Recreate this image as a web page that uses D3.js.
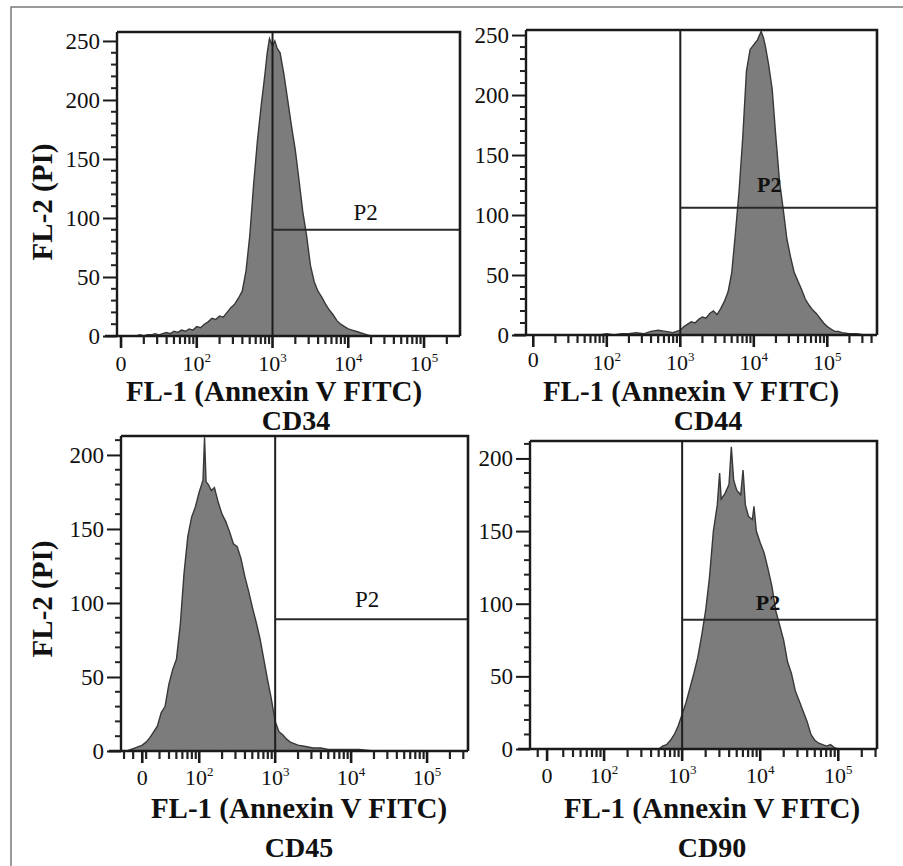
<!DOCTYPE html>
<html><head><meta charset="utf-8">
<script src="https://cdn.jsdelivr.net/npm/d3@7"></script>
<style>
html,body{margin:0;padding:0;background:#fff;}
svg{display:block;font-family:"Liberation Serif","Times New Roman",serif;}
</style></head>
<body>
<svg id="c" width="903" height="866"></svg>
<script>
// ---- data (x in decade units of FL-1 fluorescence, y = cell count) ----
const panelNames = ["CD34", "CD44", "CD45", "CD90"];
const xTickLabels = ["0", "10^2", "10^3", "10^4", "10^5"];
const yTickValuesTop = [0, 50, 100, 150, 200, 250];
const yTickValuesBottom = [0, 50, 100, 150, 200];
const zeroTick = [1.0, 1.0, 1.25, 1.27];   // where the "0" tick sits on each axis
const gateX = [3, 3, 3, 3];                // vertical gate at 10^3
const gateY = [90, 106, 89, 89];           // horizontal P2 gate level
const p2Pos = [[4.23, 98], [4.21, 119], [4.21, 97], [4.10, 96]];

const cd34X = [1.20,1.25,1.30,1.35,1.40,1.45,1.50,1.55,1.60,1.65,1.70,1.75,1.80,1.85,1.90,1.95,2.00,2.05,2.10,2.15,2.20,2.25,2.30,2.35,2.40,2.45,2.50,2.55,2.60,2.65,2.70,2.75,2.80,2.85,2.90,2.93,2.96,3.00,3.03,3.06,3.10,3.15,3.20,3.25,3.30,3.35,3.40,3.45,3.50,3.55,3.60,3.65,3.70,3.75,3.80,3.85,3.90,3.95,4.00,4.05,4.10,4.15,4.20,4.25,4.30];
const cd34Y = [0,1,0,1,1,2,1,2,3,2,4,3,5,4,6,5,8,7,10,12,15,14,17,16,20,24,27,32,38,55,85,128,165,195,222,240,252,246,250,244,240,222,200,178,158,132,105,85,60,46,38,33,27,22,18,13,10,8,6,5,4,3,2,1,0];

const cd44X = [1.90,2.00,2.10,2.20,2.30,2.40,2.50,2.60,2.70,2.80,2.90,3.00,3.05,3.10,3.15,3.20,3.25,3.30,3.35,3.40,3.45,3.50,3.55,3.60,3.65,3.70,3.75,3.80,3.85,3.90,3.95,4.00,4.05,4.10,4.13,4.16,4.20,4.25,4.30,4.35,4.40,4.45,4.50,4.55,4.60,4.65,4.70,4.75,4.80,4.85,4.90,4.95,5.00,5.05,5.10,5.15,5.20,5.30,5.40,5.50];
const cd44Y = [0,1,0,1,1,2,1,3,4,3,2,4,7,9,11,10,13,15,14,18,20,17,22,28,36,52,85,120,165,220,238,242,246,253,248,240,226,205,165,128,105,80,65,52,45,38,30,25,21,18,14,10,7,5,3,3,2,1,1,0];

const cd45X = [1.05,1.10,1.15,1.20,1.25,1.30,1.35,1.40,1.45,1.50,1.55,1.60,1.65,1.70,1.75,1.80,1.85,1.90,1.95,2.00,2.05,2.07,2.09,2.12,2.16,2.20,2.25,2.30,2.35,2.40,2.45,2.50,2.55,2.60,2.65,2.70,2.75,2.80,2.85,2.90,2.95,3.00,3.05,3.10,3.15,3.20,3.30,3.40,3.50,3.60,3.70,3.90,4.10,4.30];
const cd45Y = [0,1,2,3,4,6,9,13,17,26,30,45,55,62,85,120,145,158,165,175,183,212,182,180,176,178,168,160,155,148,140,138,130,118,108,97,87,76,62,48,35,20,13,11,8,6,4,3,2,2,1,1,1,0];

const cd90X = [2.70,2.75,2.80,2.85,2.90,2.95,3.00,3.05,3.10,3.15,3.20,3.25,3.30,3.35,3.40,3.45,3.48,3.50,3.55,3.60,3.63,3.66,3.70,3.75,3.78,3.81,3.85,3.90,3.92,3.95,4.00,4.05,4.10,4.15,4.20,4.25,4.30,4.35,4.40,4.45,4.50,4.55,4.60,4.65,4.70,4.75,4.80,4.85,4.90,4.95,5.00];
const cd90Y = [0,2,3,6,10,16,24,32,42,52,63,78,95,118,150,168,190,172,176,182,208,185,178,175,192,168,160,158,167,150,142,135,124,112,95,85,75,60,52,40,33,26,19,10,6,4,3,2,3,1,0];

const seriesX = [cd34X, cd44X, cd45X, cd90X];
const seriesY = [cd34Y, cd44Y, cd45Y, cd90Y];

// ---- layout ----
const layout = [
  {box:[117,460,32,336], xd:[0.947,5.475], yd:[0,257.6], yTicks:yTickValuesTop, ytitleY:202,
   tickBase:35, zeroDy:0, titleX:274, titleY:401, nameX:296, nameY:430, p2Bold:false},
  {box:[526,877,30,335], xd:[0.901,5.676], yd:[0,254.2], yTicks:yTickValuesTop, ytitleY:null,
   tickBase:35, zeroDy:-3, titleX:691, titleY:401, nameX:708, nameY:430, p2Bold:true},
  {box:[121,468,436,751], xd:[0.970,5.539], yd:[0,212.8], yTicks:yTickValuesBottom, ytitleY:599,
   tickBase:34, zeroDy:0, titleX:299, titleY:818, nameX:299, nameY:857, p2Bold:false},
  {box:[530,877,441,749], xd:[1.051,5.496], yd:[0,212], yTicks:yTickValuesBottom, ytitleY:null,
   tickBase:34, zeroDy:0, titleX:712, titleY:818, nameX:712, nameY:857, p2Bold:true}
];

const svg = d3.select("#c");
svg.append("rect").attr("x",11).attr("y",7).attr("width",905).attr("height",875)
  .attr("fill","none").attr("stroke","#7a7a7a").attr("stroke-width",1.5);

const defs = svg.append("defs");

layout.forEach((L, i) => {
  const [x0, x1, y0, y1] = L.box;
  const x = d3.scaleLinear().domain(L.xd).range([x0, x1]);
  const y = d3.scaleLinear().domain(L.yd).range([y1, y0]);
  const g = svg.append("g");

  defs.append("clipPath").attr("id","clip"+i).append("rect")
    .attr("x",x0).attr("y",y0).attr("width",x1-x0).attr("height",y1-y0);

  const pts = seriesX[i].map((v, k) => [v, seriesY[i][k]]);
  const area = d3.area().x(d => x(d[0])).y0(y(0)).y1(d => y(d[1])).curve(d3.curveLinear);
  const line = d3.line().x(d => x(d[0])).y(d => y(d[1])).curve(d3.curveLinear);
  const hg = g.append("g").attr("clip-path","url(#clip"+i+")");
  hg.append("path").datum(pts).attr("d", area).attr("fill","#7c7c7c");
  hg.append("path").datum(pts).attr("d", line).attr("fill","none")
    .attr("stroke","#383838").attr("stroke-width",1.4);

  // gates
  g.append("line").attr("x1",x(gateX[i])).attr("x2",x(gateX[i])).attr("y1",y0).attr("y2",y1)
    .attr("stroke","#1e1e1e").attr("stroke-width",2);
  g.append("line").attr("x1",x(gateX[i])).attr("x2",x1).attr("y1",y(gateY[i])).attr("y2",y(gateY[i]))
    .attr("stroke","#2a2a2a").attr("stroke-width",2);
  g.append("text").attr("x",x(p2Pos[i][0])).attr("y",y(p2Pos[i][1]))
    .attr("text-anchor","middle").attr("font-size",L.p2Bold?22:23)
    .attr("font-weight",L.p2Bold?"bold":"normal").attr("fill","#111").text("P2");

  // box top & right
  g.append("path").attr("d",`M${x0},${y0}H${x1}V${y1}`).attr("fill","none")
    .attr("stroke","#1a1a1a").attr("stroke-width",2.6);

  // y axis
  const yMinor = d3.range(0, L.yd[1], 10);
  const yAx = d3.axisLeft(y).tickValues(L.yTicks).tickSize(14).tickPadding(3).tickFormat(d3.format("d"));
  const ya = g.append("g").attr("transform",`translate(${x0},0)`).call(yAx);
  ya.select(".domain").attr("d",`M0,${y0}V${y1}`).attr("stroke","#1a1a1a").attr("stroke-width",2.4);
  ya.selectAll(".tick line").attr("stroke","#1a1a1a").attr("stroke-width",2);
  ya.selectAll(".tick text").attr("font-size",23).attr("fill","#111")
    .attr("font-family","Liberation Serif");
  g.append("g").selectAll("line").data(yMinor.filter(v => L.yTicks.indexOf(v) < 0)).join("line")
    .attr("x1",x0-6).attr("x2",x0).attr("y1",d=>y(d)).attr("y2",d=>y(d))
    .attr("stroke","#222").attr("stroke-width",2);

  // x axis
  const majors = [zeroTick[i], 2, 3, 4, 5];
  const minors = [];
  for (let k = 1; k <= 5; k++) for (let m = 2; m <= 9; m++) {
    const v = k + Math.log10(m);
    if (v > zeroTick[i] + 0.05 && v < L.xd[1]) minors.push(v);
  }
  for (let v = zeroTick[i] - 0.12; v >= L.xd[0]; v -= 0.12) minors.push(v);
  g.append("line").attr("x1",x0-12).attr("x2",x1).attr("y1",y1).attr("y2",y1)
    .attr("stroke","#1a1a1a").attr("stroke-width",2.4);
  g.append("g").selectAll("line").data(minors).join("line")
    .attr("x1",d=>x(d)).attr("x2",d=>x(d)).attr("y1",y1).attr("y2",y1+8)
    .attr("stroke","#222").attr("stroke-width",2.2);
  g.append("g").selectAll("line").data(majors).join("line")
    .attr("x1",d=>x(d)).attr("x2",d=>x(d)).attr("y1",y1).attr("y2",y1+12)
    .attr("stroke","#1a1a1a").attr("stroke-width",2.6);
  const lbl = g.append("g").selectAll("text").data(majors).join("text")
    .attr("x",d=>x(d)).attr("y",(d,k)=> y1 + L.tickBase + (k===0 ? L.zeroDy : 0))
    .attr("text-anchor","middle").attr("font-size",22).attr("fill","#111");
  lbl.each(function(d, k) {
    const t = d3.select(this), s = xTickLabels[k].split("^");
    t.append("tspan").text(s[0]);
    if (s[1]) t.append("tspan").attr("dy",-9).attr("font-size",13).text(s[1]);
  });

  // titles
  g.append("text").attr("x",L.titleX).attr("y",L.titleY).attr("text-anchor","middle")
    .attr("font-size",29).attr("font-weight","bold").attr("fill","#111").text("FL-1 (Annexin V FITC)");
  g.append("text").attr("x",L.nameX).attr("y",L.nameY).attr("text-anchor","middle")
    .attr("font-size",28).attr("font-weight","bold").attr("fill","#111").text(panelNames[i]);
  if (L.ytitleY !== null) {
    g.append("text").attr("transform",`translate(52,${L.ytitleY}) rotate(-90)`).attr("text-anchor","middle")
      .attr("font-size",29).attr("font-weight","bold").attr("fill","#111").text("FL-2 (PI)");
  }
});
</script>
</body></html>
